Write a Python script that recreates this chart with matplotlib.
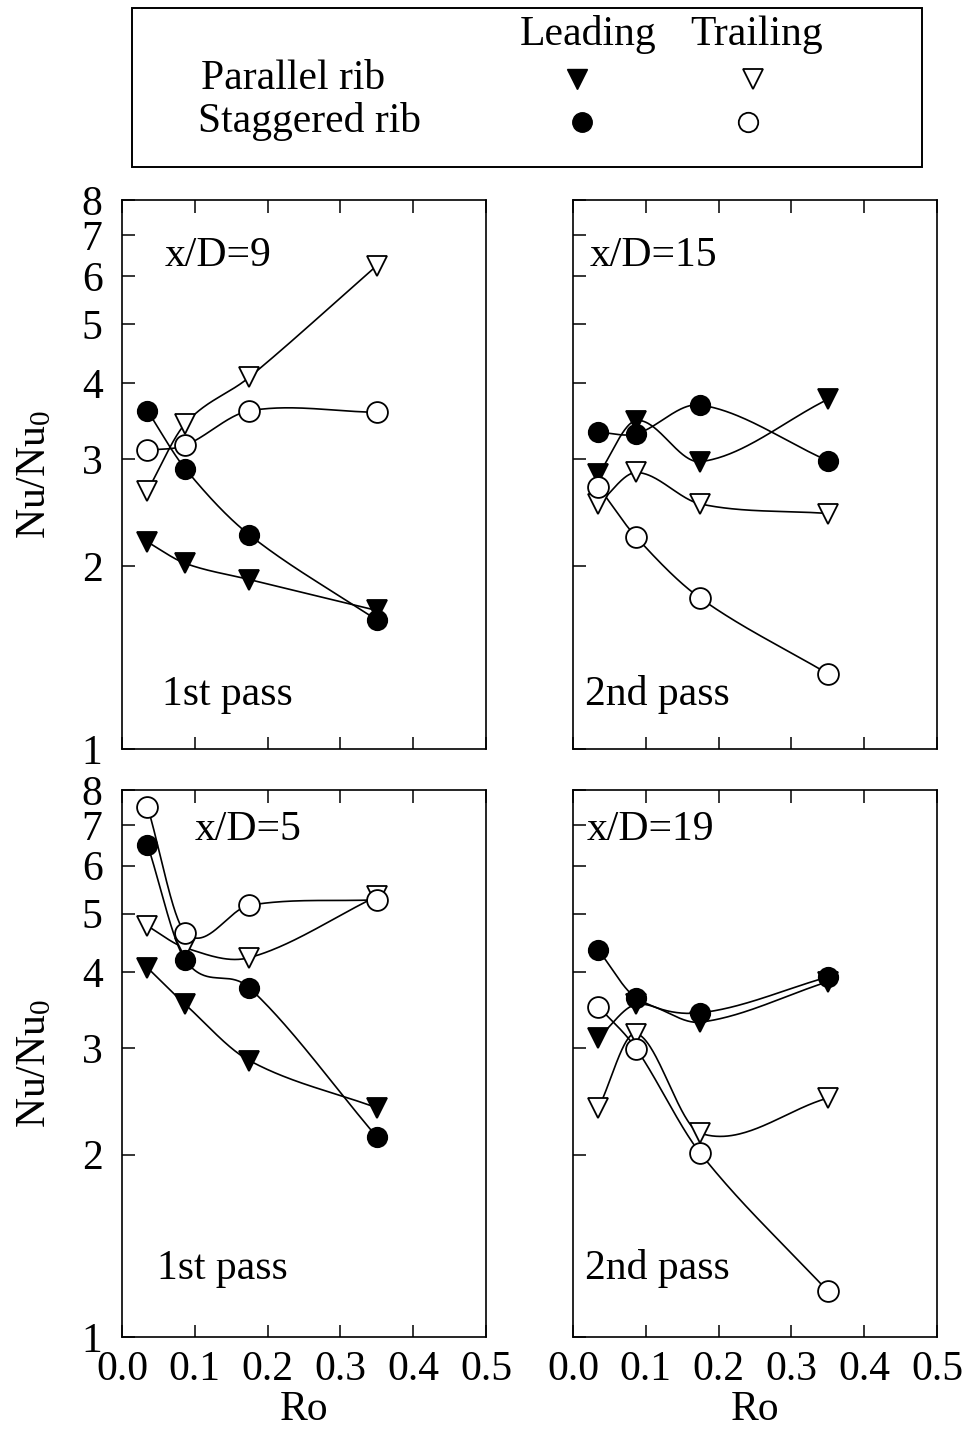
import numpy as np
import matplotlib
matplotlib.use("Agg")
import matplotlib.pyplot as plt
from matplotlib.patches import Rectangle

plt.rcParams['font.family'] = ['Liberation Serif', 'DejaVu Serif']
plt.rcParams['mathtext.fontset'] = 'custom'
plt.rcParams['mathtext.rm'] = 'Liberation Serif'
plt.rcParams['mathtext.it'] = 'Liberation Serif'

# ---------------- data ----------------
ro = [0.035, 0.087, 0.175, 0.35]

# x/D = 9 (1st pass)
p9_lead = [2.19, 2.02, 1.90, 1.69]
p9_trail = [2.66, 3.43, 4.09, 6.24]
s9_lead = [3.60, 2.89, 2.25, 1.63]
s9_trail = [3.10, 3.16, 3.60, 3.58]

# x/D = 15 (2nd pass)
p15_lead = [2.83, 3.47, 2.97, 3.76]
p15_trail = [2.53, 2.85, 2.53, 2.44]
s15_lead = [3.32, 3.30, 3.68, 2.98]
s15_trail = [2.70, 2.23, 1.77, 1.33]

# x/D = 5 (1st pass)
p5_lead = [4.07, 3.54, 2.86, 2.39]
p5_trail = [4.77, 4.39, 4.23, 5.34]
s5_lead = [6.50, 4.19, 3.77, 2.14]
s5_trail = [7.51, 4.65, 5.16, 5.27]

# x/D = 19 (2nd pass)
p19_lead = [3.12, 3.54, 3.31, 3.86]
p19_trail = [2.39, 3.17, 2.17, 2.48]
s19_lead = [4.35, 3.63, 3.43, 3.93]
s19_trail = [3.51, 2.99, 2.01, 1.19]

yticks = [1, 2, 3, 4, 5, 6, 7, 8]
xticks = [0.0, 0.1, 0.2, 0.3, 0.4, 0.5]

panels = [
    dict(label="x/D=9", pas="1st pass", data=(p9_lead, p9_trail, s9_lead, s9_trail)),
    dict(label="x/D=15", pas="2nd pass", data=(p15_lead, p15_trail, s15_lead, s15_trail)),
    dict(label="x/D=5", pas="1st pass", data=(p5_lead, p5_trail, s5_lead, s5_trail)),
    dict(label="x/D=19", pas="2nd pass", data=(p19_lead, p19_trail, s19_lead, s19_trail)),
]

# ---------------- helpers ----------------
def smooth_curve(x, y, n=200):
    """Cubic Hermite curve with finite-difference (Catmull-Rom like) tangents."""
    x = np.asarray(x, float)
    y = np.asarray(y, float)
    k = len(x)
    m = np.empty(k)
    m[0] = (y[1] - y[0]) / (x[1] - x[0])
    m[-1] = (y[-1] - y[-2]) / (x[-1] - x[-2])
    for i in range(1, k - 1):
        m[i] = (y[i + 1] - y[i - 1]) / (x[i + 1] - x[i - 1])
    xs_all, ys_all = [], []
    for i in range(k - 1):
        h = x[i + 1] - x[i]
        t = np.linspace(0, 1, n // (k - 1))
        h00 = 2 * t ** 3 - 3 * t ** 2 + 1
        h10 = t ** 3 - 2 * t ** 2 + t
        h01 = -2 * t ** 3 + 3 * t ** 2
        h11 = t ** 3 - t ** 2
        xs_all.append(x[i] + t * h)
        ys_all.append(h00 * y[i] + h10 * h * m[i] + h01 * y[i + 1] + h11 * h * m[i + 1])
    return np.concatenate(xs_all), np.concatenate(ys_all)

styles = [
    dict(marker='v', mfc='black', mec='black', ms=14),
    dict(marker='v', mfc='white', mec='black', ms=14),
    dict(marker='o', mfc='black', mec='black', ms=14),
    dict(marker='o', mfc='white', mec='black', ms=15),
]

W, H = 967, 1445
fig = plt.figure(figsize=(W / 100, H / 100), dpi=100)

pos = [
    (122, 200, 486, 749),
    (573, 200, 937, 749),
    (122, 790, 486, 1337),
    (573, 790, 937, 1337),
]

# text anchor positions (axes fraction, left / baseline)
label_pos = [(0.118, 0.880), (0.047, 0.880), (0.200, 0.909), (0.038, 0.909)]
pass_pos = [(0.110, 0.080), (0.033, 0.080), (0.096, 0.106), (0.033, 0.106)]

FS = 30
for idx, (pn, (x0, y0, x1, y1)) in enumerate(zip(panels, pos)):
    ax = fig.add_axes([x0 / W, 1 - y1 / H, (x1 - x0) / W, (y1 - y0) / H])
    ax.set_yscale('log')
    ax.set_xlim(0, 0.5)
    ax.set_ylim(1, 8)
    for series in pn["data"]:
        xs, ls = smooth_curve(ro, np.log10(series))
        ax.plot(xs, 10 ** ls, color='black', lw=1.2, zorder=2)
    for series, st in zip(pn["data"], styles):
        ax.plot(ro, series, linestyle='none', marker=st['marker'],
                mfc=st['mfc'], mec=st['mec'], ms=st['ms'], mew=1.3, zorder=3)
    ax.yaxis.set_major_locator(matplotlib.ticker.FixedLocator(yticks))
    ax.yaxis.set_minor_locator(matplotlib.ticker.NullLocator())
    ax.xaxis.set_major_locator(matplotlib.ticker.FixedLocator(xticks))
    left = idx % 2 == 0
    bottom = idx >= 2
    ax.tick_params(axis='both', which='both', direction='in', length=9, width=1.1,
                   labelsize=FS, top=True, right=False)
    ax.tick_params(axis='y', pad=14)
    ax.tick_params(axis='x', pad=10)
    if left:
        ax.set_yticklabels([str(v) for v in yticks])
        ax.set_ylabel("Nu/Nu$_0$", fontsize=FS)
        ax.yaxis.set_label_coords(-0.185, 0.5)
    else:
        ax.set_yticklabels([])
    if bottom:
        ax.set_xticklabels([f"{v:.1f}" for v in xticks])
        ax.set_xlabel("Ro", fontsize=FS, labelpad=1)
    else:
        ax.set_xticklabels([])
    for s in ax.spines.values():
        s.set_linewidth(1.2)
    lx, ly = label_pos[idx]
    px, py = pass_pos[idx]
    ax.text(lx, ly, pn["label"], transform=ax.transAxes, fontsize=FS, va='baseline')
    ax.text(px, py, pn["pas"], transform=ax.transAxes, fontsize=FS, va='baseline')

# ---------------- legend box ----------------
lx0, ly0, lx1, ly1 = 131, 7, 923, 168
lax = fig.add_axes([lx0 / W, 1 - ly1 / H, (lx1 - lx0) / W, (ly1 - ly0) / H])
lax.set_xlim(lx0, lx1)
lax.set_ylim(ly1, ly0)
lax.axis('off')
lax.add_patch(Rectangle((lx0 + 1, ly0 + 1), lx1 - lx0 - 2, ly1 - ly0 - 2,
                        fill=False, lw=1.4, ec='black'))
lax.text(520, 45, "Leading", fontsize=FS, ha='left', va='baseline')
lax.text(690, 45, "Trailing", fontsize=FS, ha='left', va='baseline')
lax.text(201, 89, "Parallel rib", fontsize=FS, ha='left', va='baseline')
lax.text(198, 132, "Staggered rib", fontsize=FS, ha='left', va='baseline')
lax.plot([577], [79], linestyle='none', marker='v', mfc='black', mec='black', ms=14)
lax.plot([753], [79], linestyle='none', marker='v', mfc='white', mec='black', ms=14, mew=1.3)
lax.plot([582], [122], linestyle='none', marker='o', mfc='black', mec='black', ms=14)
lax.plot([748], [122], linestyle='none', marker='o', mfc='white', mec='black', ms=14, mew=1.3)

fig.savefig("out.png", dpi=100)
